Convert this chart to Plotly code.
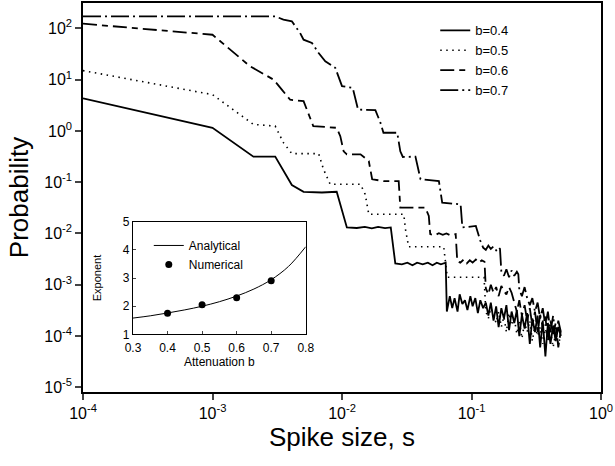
import plotly.graph_objects as go

# ---------------- data ----------------
S_B04 = [1.0e-4, 1.0e-3, 2.07e-3, 3.05e-3, 4.1e-3, 5.05e-3, 7.0e-3, 9.1e-3, 0.0109, 0.013,
         0.015, 0.017, 0.019, 0.0215, 0.0238, 0.0258, 0.029, 0.032, 0.035, 0.038,
         0.042, 0.046, 0.050, 0.054, 0.058, 0.0632, 0.0645,
         0.068, 0.071, 0.074, 0.078, 0.081, 0.085, 0.089, 0.093, 0.098, 0.102, 0.107, 0.112,
         0.117, 0.123, 0.129,
         0.135, 0.141, 0.148, 0.155, 0.162, 0.170, 0.178, 0.186, 0.195, 0.204, 0.214, 0.224,
         0.234, 0.245, 0.257, 0.269, 0.282, 0.295, 0.309, 0.324, 0.339, 0.355, 0.372, 0.389,
         0.407, 0.427, 0.447, 0.468, 0.490]
P_B04 = [4.3, 1.15, 0.315, 0.315, 0.088, 0.065, 0.063, 0.065, 0.0131, 0.0128,
         0.0135, 0.0126, 0.0134, 0.0127, 0.0131, 0.0026, 0.0025, 0.0027, 0.0024, 0.0027,
         0.0025, 0.0027, 0.0024, 0.0027, 0.0025, 0.0027, 3.0e-4,
         6.0e-4, 3.5e-4, 5.5e-4, 3.0e-4, 6.5e-4, 4.2e-4, 5.0e-4, 3.2e-4, 6.0e-4, 3.8e-4, 5.5e-4,
         2.8e-4, 5.0e-4, 3.5e-4, 4.5e-4,
         2.5e-4, 4.5e-4, 2.0e-4, 3.8e-4, 1.5e-4, 3.5e-4, 2.2e-4, 4.0e-4, 1.3e-4, 3.0e-4, 1.8e-4,
         3.2e-4, 1.0e-4, 2.6e-4, 1.4e-4, 2.8e-4, 7e-5, 2.2e-4, 1.2e-4, 2.5e-4, 6e-5, 2.0e-4, 4e-5,
         1.8e-4, 7e-5, 1.6e-4, 8e-5, 1.5e-4, 1.0e-4]

S_B05 = [1.0e-4, 1.0e-3, 2.07e-3, 3.05e-3, 3.53e-3, 4.1e-3, 6.6e-3, 7.2e-3, 8.1e-3, 0.0139,
         0.0151, 0.0161, 0.030, 0.0309, 0.0327, 0.061, 0.065, 0.125,
         0.129, 0.135, 0.141, 0.148, 0.155, 0.162, 0.170, 0.178, 0.186, 0.195, 0.204, 0.214,
         0.224, 0.234, 0.245, 0.257, 0.269, 0.282, 0.295, 0.309, 0.324, 0.339, 0.355, 0.372,
         0.389, 0.407, 0.427, 0.447, 0.468, 0.490]
P_B05 = [15.0, 5.1, 1.34, 1.24, 0.59, 0.36, 0.36, 0.178, 0.091, 0.091,
         0.058, 0.0237, 0.0237, 0.0121, 0.0055, 0.0055, 0.0014, 0.0014,
         3.0e-4, 2.2e-4, 3.5e-4, 2.5e-4, 1.8e-4, 3.0e-4, 1.5e-4, 2.4e-4, 1.2e-4, 2.8e-4, 1.6e-4,
         2.2e-4, 1.1e-4, 2.0e-4, 9e-5, 1.8e-4, 1.2e-4, 2.0e-4, 8e-5, 1.6e-4, 1.0e-4, 1.5e-4, 7e-5,
         1.4e-4, 9e-5, 1.3e-4, 6e-5, 1.2e-4, 7e-5, 1.0e-4]

S_B06 = [1.0e-4, 1.0e-3, 1.95e-3, 2.55e-3, 2.96e-3, 3.43e-3, 3.98e-3, 5.05e-3, 5.5e-3, 6.0e-3,
         9.1e-3, 9.7e-3, 0.0103, 0.0109, 0.0139, 0.0161, 0.0171, 0.0210, 0.0274, 0.0282,
         0.044, 0.0468, 0.048, 0.052, 0.056, 0.060, 0.064, 0.068, 0.0755, 0.0776,
         0.082, 0.087, 0.092, 0.097, 0.102, 0.108, 0.114, 0.120, 0.126,
         0.129, 0.135, 0.141, 0.148, 0.155, 0.162, 0.170, 0.178, 0.186, 0.195, 0.204, 0.214,
         0.224, 0.234, 0.245, 0.257, 0.269, 0.282, 0.295, 0.309, 0.324, 0.339, 0.355, 0.372,
         0.389, 0.407, 0.427, 0.447, 0.468, 0.490]
P_B06 = [123, 75, 18.2, 12.6, 10.0, 6.4, 4.05, 3.8, 2.26, 1.24,
         1.15, 0.79, 0.40, 0.35, 0.35, 0.258, 0.114, 0.105, 0.105, 0.032,
         0.032, 0.022, 0.0097, 0.0092, 0.0101, 0.0094, 0.0100, 0.0093, 0.0097, 0.0029,
         0.0027, 0.0031, 0.0026, 0.0030, 0.0027, 0.0031, 0.0027, 0.0030, 0.0028,
         8.5e-4, 6.5e-4, 1.0e-3, 7.0e-4, 9.0e-4, 6.0e-4, 9.5e-4, 7.5e-4, 6.5e-4, 9.0e-4, 7.0e-4,
         4.5e-4, 3.0e-4, 5.0e-4, 2.5e-4, 4.0e-4, 2.0e-4, 3.5e-4, 1.6e-4, 3.0e-4, 1.2e-4, 2.6e-4,
         1.5e-4, 2.4e-4, 8e-5, 2.0e-4, 1.1e-4, 1.8e-4, 6e-5, 1.3e-4]

S_B07 = [1.0e-4, 3.05e-3, 3.53e-3, 4.1e-3, 4.75e-3, 5.05e-3, 5.86e-3, 6.6e-3, 7.43e-3, 8.87e-3,
         0.0100, 0.0121, 0.0133, 0.0181, 0.0198, 0.0209, 0.0267, 0.0282, 0.0295, 0.0369,
         0.0404, 0.056, 0.0594, 0.0824, 0.085, 0.108, 0.117,
         0.123, 0.129, 0.135, 0.141, 0.148, 0.155, 0.162, 0.166, 0.170, 0.178, 0.186, 0.195,
         0.204, 0.214, 0.224, 0.230, 0.234, 0.245, 0.257, 0.269, 0.282, 0.295, 0.309, 0.324,
         0.339, 0.355, 0.372, 0.389, 0.407, 0.427, 0.447, 0.468, 0.490]
P_B07 = [171, 171, 148, 137, 81, 60, 52, 33, 22.8, 17.0,
         7.45, 6.9, 2.6, 2.54, 1.45, 0.92, 0.92, 0.40, 0.31, 0.315,
         0.114, 0.105, 0.040, 0.037, 0.0131, 0.014, 0.0072,
         5.3e-3, 4.8e-3, 5.8e-3, 5.0e-3, 5.6e-3, 4.7e-3, 5.4e-3, 5.0e-3, 1.8e-3, 1.5e-3, 2.0e-3,
         1.4e-3, 1.9e-3, 1.5e-3, 1.8e-3, 1.6e-3, 8e-4, 6e-4, 9e-4, 5.5e-4, 4.0e-4, 5.5e-4, 3.0e-4,
         4.5e-4, 2.2e-4, 3.5e-4, 1.6e-4, 3.0e-4, 1.2e-4, 2.5e-4, 9e-5, 2.0e-4, 1.2e-4]

SERIES_NAMES = ["b=0.4", "b=0.5", "b=0.6", "b=0.7"]

X_TICKS = [1e-4, 1e-3, 1e-2, 1e-1, 1e0]
X_TICKTEXT = ["10<sup>-4</sup>", "10<sup>-3</sup>", "10<sup>-2</sup>", "10<sup>-1</sup>", "10<sup>0</sup>"]
Y_TICKS = [1e-5, 1e-4, 1e-3, 1e-2, 1e-1, 1e0, 1e1, 1e2]
Y_TICKTEXT = ["10<sup>-5</sup>", "10<sup>-4</sup>", "10<sup>-3</sup>", "10<sup>-2</sup>",
              "10<sup>-1</sup>", "10<sup>0</sup>", "10<sup>1</sup>", "10<sup>2</sup>"]

# inset
B_ANALYTIC = [0.30, 0.35, 0.40, 0.45, 0.50, 0.55, 0.60, 0.65, 0.70, 0.75, 0.80]
EXP_ANALYTIC = [1.58, 1.66, 1.76, 1.87, 2.00, 2.16, 2.36, 2.61, 2.94, 3.41, 4.11]
B_NUM = [0.4, 0.5, 0.6, 0.7]
EXP_NUM = [1.75, 2.05, 2.30, 2.90]
INSET_X_TICKS = [0.3, 0.4, 0.5, 0.6, 0.7, 0.8]
INSET_Y_TICKS = [1, 2, 3, 4, 5]

# ---------------- figure ----------------
FONT = "Liberation Sans, Arial, Helvetica, sans-serif"
fig = go.Figure()

styles = [
    dict(dash="solid", width=1.8),
    dict(dash="1.5px,4.5px", width=1.6),
    dict(dash="14px,5px,6px,5px", width=1.8),
    dict(dash="18px,4px,2px,4px", width=1.8),
]
for name, s, p, st in zip(SERIES_NAMES, [S_B04, S_B05, S_B06, S_B07],
                          [P_B04, P_B05, P_B06, P_B07], styles):
    fig.add_trace(go.Scatter(x=s, y=p, mode="lines", name=name,
                             line=dict(color="black", width=st["width"], dash=st["dash"]),
                             xaxis="x", yaxis="y", legend="legend"))

fig.add_trace(go.Scatter(x=B_ANALYTIC, y=EXP_ANALYTIC, mode="lines", name="Analytical",
                         line=dict(color="black", width=1, shape="spline"),
                         xaxis="x2", yaxis="y2", legend="legend2"))
fig.add_trace(go.Scatter(x=B_NUM, y=EXP_NUM, mode="markers", name="Numerical",
                         marker=dict(color="black", size=7),
                         xaxis="x2", yaxis="y2", legend="legend2"))

fig.update_layout(
    width=615, height=466,
    margin=dict(l=83, r=14, t=3, b=74, autoexpand=False),
    paper_bgcolor="white", plot_bgcolor="white",
    font=dict(family=FONT, color="black"),
    xaxis=dict(type="log", range=[-4, 0], tickvals=X_TICKS, ticktext=X_TICKTEXT,
               ticks="outside", ticklen=6, tickwidth=1.5, showgrid=False, zeroline=False,
               showline=True, linecolor="black", linewidth=1.5, mirror=True,
               tickfont=dict(size=16), automargin=False,
               title=dict(text="Spike size, s", font=dict(size=26), standoff=4)),
    yaxis=dict(type="log", range=[-5.091, 2.494], tickvals=Y_TICKS, ticktext=Y_TICKTEXT,
               ticks="outside", ticklen=6, tickwidth=1.5, showgrid=False, zeroline=False,
               showline=True, linecolor="black", linewidth=1.5, mirror=True,
               tickfont=dict(size=16), automargin=False,
               title=dict(text="Probability", font=dict(size=26), standoff=8)),
    xaxis2=dict(domain=[0.0965, 0.430], anchor="y2", range=[0.3, 0.8],
                tickvals=INSET_X_TICKS, ticks="inside", ticklen=3,
                showgrid=False, zeroline=False, showline=True, linecolor="black",
                linewidth=1.2, mirror=True, tickfont=dict(size=12), automargin=False,
                ticklabelstandoff=2,
                title=dict(text="Attenuation b", font=dict(size=12), standoff=2)),
    yaxis2=dict(domain=[0.148, 0.438], anchor="x2", range=[1, 5],
                tickvals=INSET_Y_TICKS, ticks="inside", ticklen=3,
                showgrid=False, zeroline=False, showline=True, linecolor="black",
                linewidth=1.2, mirror=True, tickfont=dict(size=12), automargin=False,
                title=dict(text="Exponent", font=dict(size=11), standoff=18)),
    legend=dict(x=0.68, y=0.968, xanchor="left", yanchor="top",
                bgcolor="rgba(0,0,0,0)", borderwidth=0, font=dict(size=13),
                tracegroupgap=0),
    legend2=dict(x=0.127, y=0.414, xanchor="left", yanchor="top",
                 bgcolor="rgba(0,0,0,0)", borderwidth=0, font=dict(size=12),
                 tracegroupgap=0),
    showlegend=True,
)

fig.write_html("out.html", config={"displayModeBar": False},
               post_script="document.body.style.margin='0px';document.body.style.padding='0px';")
